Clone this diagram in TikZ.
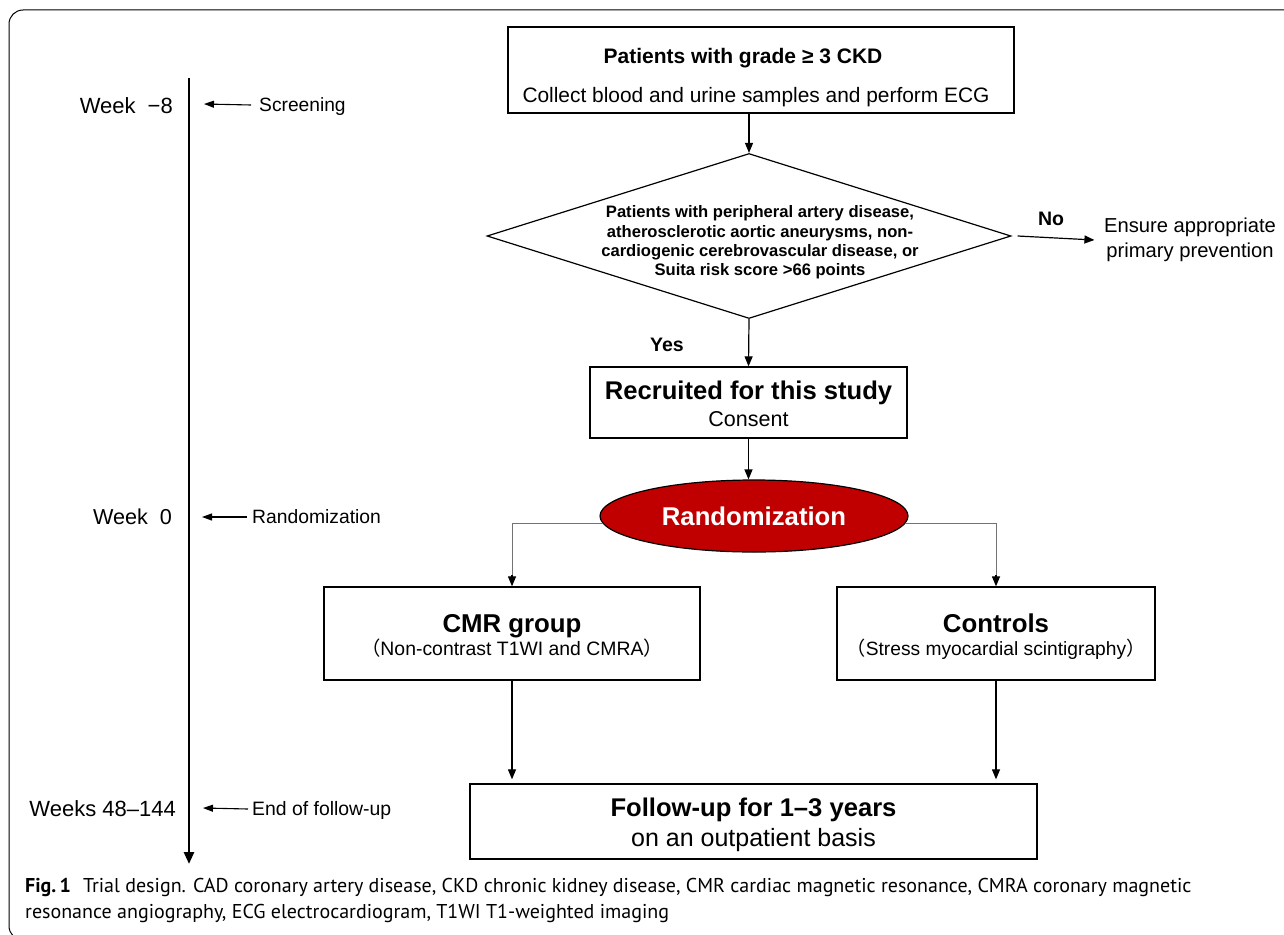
\documentclass[tikz,border=0pt]{standalone}
\usepackage{fontspec}
\setmainfont{Liberation Sans}
\newfontfamily\cjk{Noto Sans CJK SC}
\newfontfamily\capfont{PT Sans}
\usetikzlibrary{shapes.geometric,arrows.meta}
\definecolor{randred}{HTML}{C00000}
\begin{document}
\begin{tikzpicture}[x=1pt,y=-1pt,
  box/.style={draw,line width=1.3pt,inner sep=0pt},
  txt/.style={inner sep=0pt,anchor=base},
  arr/.style={-{Triangle[length=10pt,width=8pt]},line width=1.2pt},
  tarr/.style={-{Triangle[length=10pt,width=7pt]},line width=1.1pt},
  f/.style={font=\fontsize{#1}{#1}\selectfont},
  fb/.style={font=\fontsize{#1}{#1}\selectfont\bfseries}]
\useasboundingbox (0,0) rectangle (1284,934);
\fill[white] (0,0) rectangle (1284,934);
\begin{scope}
\clip (0,0) rectangle (1284,934);
\draw[line width=1pt,rounded corners=14pt] (9,10) rectangle (1310,940);
\end{scope}

% timeline
\coordinate (tlA) at (189,78);
\coordinate (tlB) at (189,864);
\draw[line width=2.6pt,-{Triangle[length=12pt,width=10pt]}] (tlA) -- (tlB);

\node[f=22,anchor=base east,inner sep=0pt] (wk8) at (173,113) {Week\hspace{0.55em}−8};
\node[f=19.2,anchor=base west,inner sep=0pt] (scr) at (259,111) {Screening};
\coordinate (p8) at (204,104);
\draw[tarr] ([xshift=-8pt,yshift=6pt]scr.base west) -- (p8);

\node[f=21.6,anchor=base east,inner sep=0pt] (wk0) at (172,524) {Week\hspace{0.55em}0};
\node[f=19.3,anchor=base west,inner sep=0pt] (rnd) at (252,523) {Randomization};
\coordinate (p0) at (202,517);
\draw[tarr] ([xshift=-5pt,yshift=6pt]rnd.base west) -- (p0);

\node[f=22,anchor=base east,inner sep=0pt] (wk48) at (176,816) {Weeks 48–144};
\node[f=19.4,anchor=base west,inner sep=0pt] (eof) at (252,815) {End of follow-up};
\coordinate (p48) at (203,808);
\draw[tarr] ([xshift=-4pt,yshift=6pt]eof.base west) -- (p48);

% top box
\node[box,minimum width=506pt,minimum height=86pt] (top) at (761,70) {};
\node[txt,fb=21] (topa) at (743,63.5) {Patients with grade ≥ 3 CKD};
\node[txt,f=20.9] (topb) at (756,102) {Collect blood and urine samples and perform ECG};

% diamond
\node[diamond,draw,line width=1.2pt,minimum width=524pt,minimum height=165pt,inner sep=0pt] (dia) at (749,236) {};
\node[align=center,inner sep=0pt,font=\fontsize{16.6}{19.4}\selectfont\bfseries] (diat) at (760,242.5)
 {Patients with peripheral artery disease,\\atherosclerotic aortic aneurysms, non-\\cardiogenic cerebrovascular disease, or\\Suita risk score >66 points};
\draw[arr] (dia.north |- top.south) -- (dia.north);

% No branch
\node[align=center,inner sep=0pt,font=\fontsize{20.2}{25}\selectfont] (ens) at (1190,240) {Ensure appropriate\\primary prevention};
\draw[arr] ([xshift=6pt]dia.east) -- ([xshift=-9.5pt]ens.west);
\node[txt,fb=19.5] (no) at (1051,225) {No};

% recruited
\node[box,minimum width=317pt,minimum height=71pt] (rec) at (748.5,402.5) {};
\node[txt,fb=25.6] (reca) at (748.5,399) {Recruited for this study};
\node[txt,f=21.5] (recb) at (748.5,426.5) {Consent};
\draw[arr] (dia.south) -- (rec.north);
\node[txt,fb=19.5] (yes) at (667,351) {Yes};

% randomization
\node[ellipse,draw,line width=1.2pt,fill=randred,minimum width=308pt,minimum height=72pt,inner sep=0pt] (rand) at (754,516) {};
\node[txt,fb=25.7,text=white] (randt) at (754,525.5) {Randomization};
\draw[arr] (rec.south) -- (rand.north -| rec.south);

% groups
\node[box,minimum width=376pt,minimum height=93pt] (cmr) at (512,633.5) {};
\node[txt,fb=25.8] (cmra) at (512,632) {CMR group};
\node[txt,f=19.4] (cmrb) at (512,655.5) {{\cjk （}Non-contrast T1WI and CMRA{\cjk ）}};
\node[box,minimum width=318pt,minimum height=93pt] (ctl) at (996,633.5) {};
\node[txt,fb=25.8] (ctla) at (996,632) {Controls};
\node[txt,f=19.2] (ctlb) at (996,655.5) {{\cjk （}Stress myocardial scintigraphy{\cjk ）}};

\draw[line width=1pt,draw=black!55] (rand.183) -| ([yshift=10pt]cmr.north);
\draw[arr] ([yshift=11pt]cmr.north) -- (cmr.north);
\draw[line width=1pt,draw=black!55] (rand.357) -| ([yshift=10pt]ctl.north);
\draw[arr] ([yshift=11pt]ctl.north) -- (ctl.north);

% follow-up
\node[box,minimum width=567pt,minimum height=75pt] (fu) at (753.5,821.5) {};
\node[txt,fb=25.6] (fua) at (753.5,816) {Follow-up for 1–3 years};
\node[txt,f=25] (fub) at (753.5,846) {on an outpatient basis};
\draw[arr] (cmr.south) -- ([yshift=4pt]fu.north -| cmr.south);
\draw[arr] (ctl.south) -- ([yshift=4pt]fu.north -| ctl.south);

% caption
\node[anchor=base west,inner sep=0pt,align=left,font=\capfont\fontsize{20}{26}\selectfont] (cap) at (25,918)
 {{\bfseries Fig.\,1}\hspace{0.6em}Trial design. CAD coronary artery disease, CKD chronic kidney disease, CMR cardiac magnetic resonance, CMRA coronary magnetic\\resonance angiography, ECG electrocardiogram, T1WI T1-weighted imaging};
\end{tikzpicture}
\end{document}
